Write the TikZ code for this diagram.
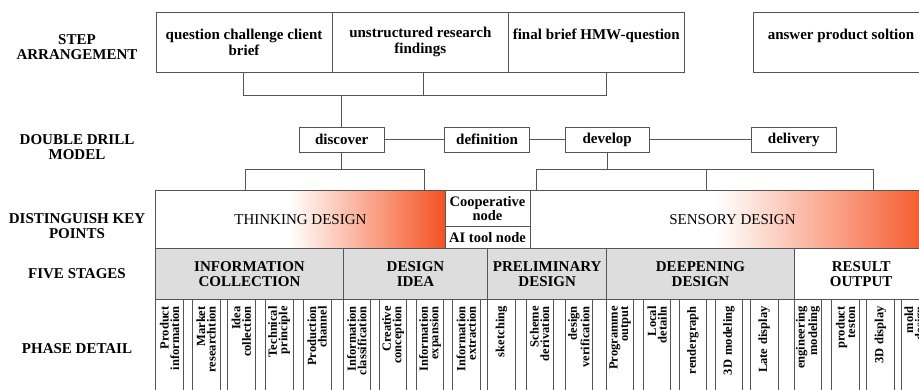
\documentclass[tikz,border=0pt]{standalone}
\usepackage{fontspec}
\setmainfont{Liberation Serif}
\usepackage{pgf, tikz}
\usetikzlibrary{backgrounds, positioning}

\definecolor{keyred}{RGB}{245,82,34}
\definecolor{linegray}{RGB}{85,85,85}
\definecolor{stagegray}{RGB}{221,221,221}

\pgfdeclarehorizontalshading{keyramp}{100bp}{%
    color(0bp)=(white); color(48bp)=(white);
    color(75bp)=(keyred); color(100bp)=(keyred)}

\begin{document}
\begin{tikzpicture}[
        background rectangle/.style={fill=white},
        show background rectangle,
        inner frame sep=0pt,
        x=1pt, y=-1pt,
        line width=0.8pt
    ]

    \tikzstyle{rowlabel}=[
        align=center,
        font=\fontsize{15}{15}\selectfont\bfseries
    ]
    \tikzstyle{stepbox}=[
        draw=linegray,
        minimum width=176pt,
        minimum height=60pt,
        inner sep=0pt,
        align=center,
        font=\fontsize{15}{16}\selectfont\bfseries
    ]
    \tikzstyle{drillbox}=[
        draw=linegray,
        minimum width=84.5pt,
        minimum height=25pt,
        inner sep=0pt,
        font=\fontsize{15}{16}\selectfont\bfseries
    ]
    \tikzstyle{keybox}=[
        draw=linegray,
        shade,
        shading=keyramp,
        minimum height=58pt,
        inner sep=0pt,
        font=\fontsize{15}{15}\selectfont
    ]
    \tikzstyle{nodebox}=[
        draw=linegray,
        minimum width=85pt,
        inner sep=0pt,
        align=center,
        font=\fontsize{14.5}{14}\selectfont\bfseries
    ]
    \tikzstyle{stagebox}=[
        draw=linegray,
        fill=stagegray,
        minimum height=51pt,
        inner sep=0pt,
        align=center,
        font=\fontsize{15}{15}\selectfont\bfseries
    ]
    \tikzstyle{detail}=[
        draw=linegray,
        rotate=90,
        minimum height=27.5pt,
        text width=86pt,
        inner xsep=7pt,
        inner ysep=0pt,
        align=right,
        font=\fontsize{12.5}{10.5}\selectfont\bfseries
    ]
    \tikzstyle{link}=[draw=linegray]
    \tikzstyle{every edge}=[draw=linegray]

    \path[use as bounding box, clip] (0,0) rectangle (919,390);

    % row labels
    \node[rowlabel] (lstep) at (77,47) {STEP\\ARRANGEMENT};
    \node[rowlabel] (ldrill) at (77,147) {DOUBLE DRILL\\MODEL};
    \node[rowlabel] (lkey) at (77,226) {DISTINGUISH KEY\\POINTS};
    \node[rowlabel] (lstage) at (77,274) {FIVE STAGES};
    \node[rowlabel] (lphase) at (77,349) {PHASE DETAIL};

    % step arrangement
    \node[stepbox] (brief) at (244,42.3) {question challenge client\\brief};
    \node[stepbox] (findings) at (420.3,42.3) {unstructured research\\findings};
    \node[stepbox] (hmw) at (596.3,42.3) {final brief HMW-question\\\mbox{}};
    \node[stepbox] (answer) at (841,42.3) {answer product soltion\\\mbox{}};

    \coordinate (sb1) at (243,95.7);
    \coordinate (sb2) at (423,95.7);
    \coordinate (sb3) at (606,95.7);

    % double drill model
    \node[drillbox] (discover) at (341.7,139.5) {discover};
    \node[drillbox] (definition) at (487,139.5) {definition};
    \node[drillbox] (develop) at (607.2,139.5) {develop};
    \node[drillbox] (delivery) at (793.8,139.5) {delivery};

    \path[-] (discover) edge (definition);
    \path[-] (definition) edge (develop);
    \path[-] (develop) edge (delivery);

    \draw[link] (sb1 |- brief.south) -- (sb1) -- (sb3) -- (sb3 |- hmw.south);
    \draw[link] (sb2 |- findings.south) -- (sb2);
    \draw[link] (discover.north) -- (discover.north |- sb1);

    % key points
    \node[keybox, minimum width=289.3pt] (thinking) at (300.4,219.3) {THINKING DESIGN};
    \node[keybox, minimum width=405pt] (sensory) at (732.5,219.3) {SENSORY DESIGN};
    \node[nodebox, minimum height=35.7pt] (coop) at (487.5,208.2) {Cooperative\\node};
    \node[nodebox, minimum height=22.3pt] (aitool) [below=0pt of coop] {AI tool node};

    \coordinate (ds1) at (245.3,169.3);
    \coordinate (ds2) at (424.3,169.3);
    \coordinate (dv1) at (536.7,169.3);
    \coordinate (dv2) at (706.7,169.3);
    \coordinate (dv3) at (873.3,169.3);

    \draw[link] (ds1 |- thinking.north) -- (ds1) -- (ds2) -- (ds2 |- thinking.north);
    \draw[link] (discover.south) -- (discover.south |- ds1);
    \draw[link] (dv1 |- sensory.north) -- (dv1) -- (dv3) -- (dv3 |- sensory.north);
    \draw[link] (dv2) -- (dv2 |- sensory.north);
    \draw[link] (develop.south) -- (develop.south |- dv1);

    % five stages
    \node[stagebox, minimum width=187.6pt] (infocol) at (249.5,273.8) {INFORMATION\\COLLECTION};
    \node[stagebox, minimum width=144.4pt] (idea) at (415.5,273.8) {DESIGN\\IDEA};
    \node[stagebox, minimum width=119pt] (prelim) at (547.2,273.8) {PRELIMINARY\\DESIGN};
    \node[stagebox, minimum width=187.6pt] (deepen) at (700.5,273.8) {DEEPENING\\DESIGN};
    \node[stagebox, fill=white, minimum width=133.7pt] (result) at (861.2,273.8) {RESULT\\OUTPUT};

    % phase detail
    \node[detail] (pinfo) at (169.5,349.3) {Product\\information};
    \node[detail] (pmarket) at (206.2,349.3) {Market\\researchtion};
    \node[detail] (pidea) at (241.4,349.3) {Idea\\collection};
    \node[detail] (ptech) at (279.2,349.3) {Technical\\principle};
    \node[detail] (pchannel) at (317.2,349.3) {Production\\channel};
    \node[detail] (pclass) at (356.7,349.3) {Information\\classification};
    \node[detail] (pcreative) at (393,349.3) {Creative\\conception};
    \node[detail] (pexpand) at (430,349.3) {Information\\expansion};
    \node[detail] (pextract) at (466.4,349.3) {Information\\extraction};
    \node[detail] (psketch) at (501.4,349.3) {sketching};
    \node[detail] (pscheme) at (539.7,349.3) {Scheme\\derivation};
    \node[detail] (pverify) at (578.9,349.3) {design\\verification};
    \node[detail] (pprog) at (620,349.3) {Programme\\output};
    \node[detail] (plocal) at (657,349.3) {Local\\detailn};
    \node[detail] (prender) at (693,349.3) {rendergraph};
    \node[detail] (pmodel) at (728.9,349.3) {3D modeling};
    \node[detail] (plate) at (764.2,349.3) {Late display};
    \node[detail] (peng) at (808,349.3) {engineering\\modeling};
    \node[detail] (ptest) at (845.5,349.3) {product\\teston};
    \node[detail] (pdisplay) at (880.4,349.3) {3D display};
    \node[detail] (pmold) at (915.4,349.3) {mold\\design};
\end{tikzpicture}
\end{document}
